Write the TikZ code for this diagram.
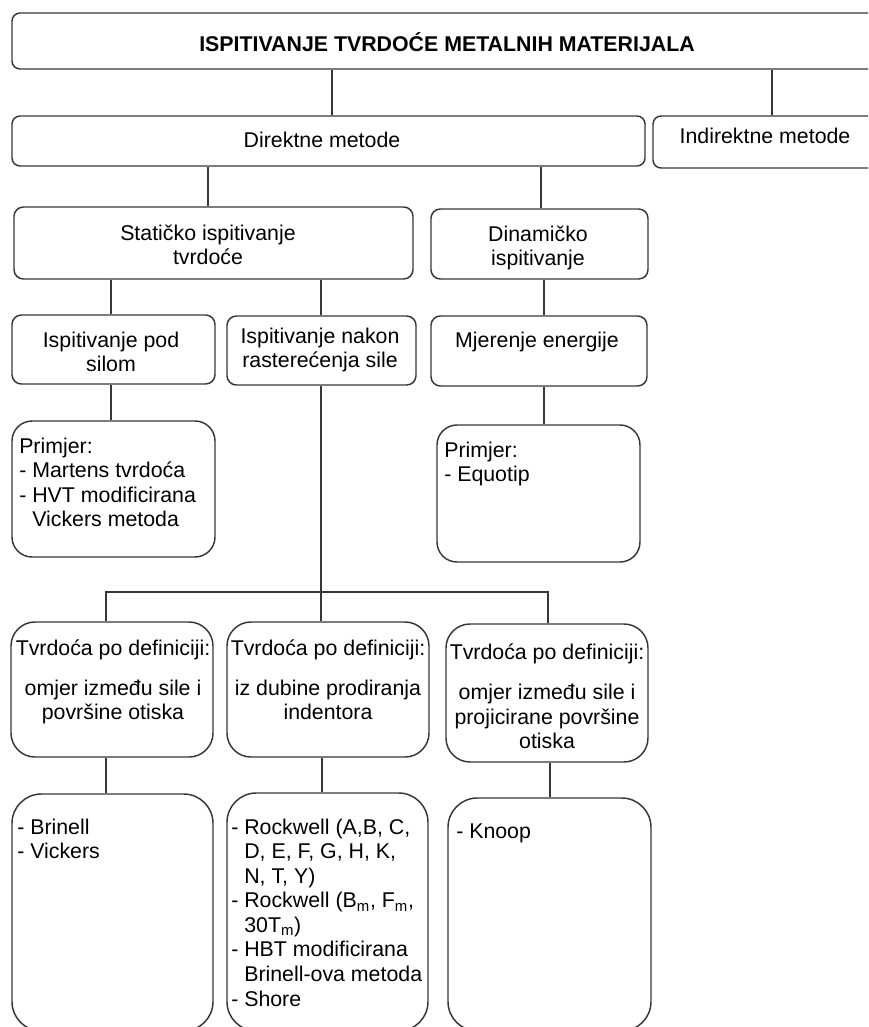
\documentclass[tikz,border=0pt]{standalone}
\usepackage{fontspec}
\setmainfont{Liberation Sans}
\usetikzlibrary{fit}
\definecolor{ln}{RGB}{55,55,55}
\newcommand\tstr{\rule{0pt}{15pt}}
\newcommand\ind{\phantom{- }}
\begin{document}
\begin{tikzpicture}[x=0.75pt,y=-0.75pt,
  box/.style={draw=ln,line width=1.1pt,inner sep=0pt,rounded corners=#1},
  box/.default=6pt,
  con/.style={draw=ln,line width=1.1pt},
  tx/.style={inner sep=0pt,font=\fontsize{16}{18.4}\selectfont,text=black},
  ml/.style={tx,anchor=north,align=center},
  ll/.style={tx,anchor=north west,align=left}]
\useasboundingbox (0,0) rectangle (868,1027);
\clip (0,0) rectangle (868,1027);
% boxes
\node[box,fit={(12,13)(890,69)}] (top) {};
\node[box,fit={(12,116)(645,166)}] (dir) {};
\node[box,fit={(653,116)(890,168)}] (ind) {};
\node[box=7pt,fit={(14,207)(413,279)}] (stat) {};
\node[box=7pt,fit={(431,209)(648,279)}] (din) {};
\node[box=7pt,fit={(12,315)(215,384)}] (pod) {};
\node[box=7pt,fit={(227,316)(416,385)}] (nakon) {};
\node[box=7pt,fit={(431,316)(647,386)}] (mj) {};
\node[box=15pt,fit={(12,421)(215,557)}] (pr1) {};
\node[box=15pt,fit={(437,425)(640,562)}] (pr2) {};
\node[box=18pt,fit={(11,622)(213,757)}] (def1) {};
\node[box=18pt,fit={(227,622)(429,757)}] (def2) {};
\node[box=18pt,fit={(446,624)(648,762)}] (def3) {};
\node[box=22pt,fit={(12,794)(213,1031)}] (b1) {};
\node[box=22pt,fit={(227,793)(428,1031)}] (b2) {};
\node[box=22pt,fit={(448,798)(651,1031)}] (b3) {};
% texts
\node[tx,anchor=base,font=\fontsize{16}{18.4}\selectfont\bfseries] (ttop) at (447,52) {ISPITIVANJE TVRDOĆE METALNIH MATERIJALA};
\node[tx,anchor=base] (tdir) at (322,147) {Direktne metode};
\node[tx,anchor=base] (tind) at (765,143) {Indirektne metode};
\node[ml] (tstat) at (208,220) {\tstr Statičko ispitivanje\\tvrdoće};
\node[ml] (tdin) at (538,221) {\tstr Dinamičko\\ispitivanje};
\node[ml] (tpod) at (111,327) {\tstr Ispitivanje pod\\silom};
\node[ml] (tnakon) at (320,323) {\tstr Ispitivanje nakon\\rasterećenja sile};
\node[tx,anchor=base] (tmj) at (537,347) {Mjerenje energije};
\node[ll] (tpr1) at (19,433) {\tstr Primjer:\\- Martens tvrdoća\\- HVT modificirana\\\ind Vickers metoda};
\node[ll] (tpr2) at (444,437) {\tstr Primjer:\\- Equotip};
\node[ml] (tdef1) at (113,635) {\tstr Tvrdoća po definiciji:\\[11.6pt]omjer između sile i\\površine otiska};
\node[ml] (tdef2) at (328,635) {\tstr Tvrdoća po definiciji:\\[11.6pt]iz dubine prodiranja\\indentora};
\node[ml] (tdef3) at (547,639) {\tstr Tvrdoća po definiciji:\\[12pt]omjer između sile i\\projicirane površine\\otiska};
\node[ll] (tb1) at (17,814) {\tstr - Brinell\\- Vickers};
\node[ll] (tb2) at (231,814) {\tstr - Rockwell (A,B, C,\\\ind D, E, F, G, H, K,\\\ind N, T, Y)\\- Rockwell (B\textsubscript{m}, F\textsubscript{m},\\\ind 30T\textsubscript{m})\\- HBT modificirana\\\ind Brinell-ova metoda\\- Shore};
\node[ll] (tb3) at (456,818) {\tstr - Knoop};
% connectors
\draw[con] (332,0 |- top.south) -- (332,0 |- dir.north);
\draw[con] (772,0 |- top.south) -- (772,0 |- ind.north);
\draw[con] (208,0 |- dir.south) -- (208,0 |- stat.north);
\draw[con] (541,0 |- dir.south) -- (541,0 |- din.north);
\draw[con] (111,0 |- stat.south) -- (111,0 |- pod.north);
\draw[con] (321,0 |- stat.south) -- (321,0 |- nakon.north);
\draw[con] (544,0 |- din.south) -- (544,0 |- mj.north);
\draw[con] (111,0 |- pod.south) -- (111,0 |- pr1.north);
\draw[con] (544,0 |- mj.south) -- (544,0 |- pr2.north);
\coordinate (bus) at (321,592);
\draw[con] (321,0 |- nakon.south) -- (321,0 |- def2.north);
\draw[con] (106,0 |- def1.north) -- (106,0 |- bus) -- (548,0 |- bus) -- (548,0 |- def3.north);
\draw[con] (106,0 |- def1.south) -- (106,0 |- b1.north);
\draw[con] (322,0 |- def2.south) -- (322,0 |- b2.north);
\draw[con] (550,0 |- def3.south) -- (550,0 |- b3.north);
\end{tikzpicture}
\end{document}
